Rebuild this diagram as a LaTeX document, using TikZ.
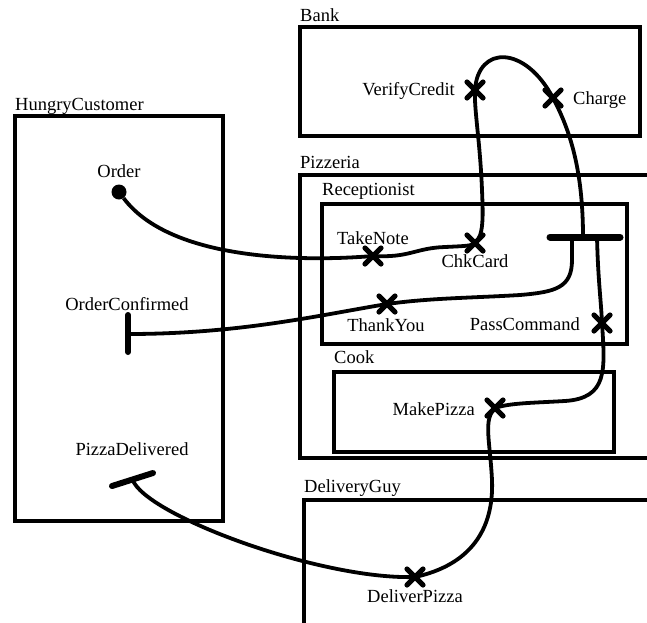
\documentclass[tikz,border=0pt]{standalone}
\usepackage{fontspec}
\setmainfont{Liberation Serif}
\begin{document}
\begin{tikzpicture}[x=1pt,y=-1pt,
  box/.style={line width=3.8pt},
  conn/.style={line width=3.8pt},
  lbl/.style={inner sep=0pt, font=\fontsize{18.5}{22}\selectfont},
  xm/.style={line width=5.2pt, line cap=round},
  barline/.style={line width=7pt, line cap=round}]
\clip (0,0) rectangle (647,622);
% swimlane boxes
\draw[box] (300,27) rectangle (640,136);
\draw[box] (680,175) -- (300,175) -- (300,458) -- (680,458);
\draw[box] (322,204) rectangle (627,344);
\draw[box] (334,372) rectangle (614,452);
\draw[box] (680,500) -- (304,500) -- (304,660);
\draw[box] (15,116) rectangle (223,521);
% lane titles
\node[lbl, anchor=base west] (tBank) at (300,21) {Bank};
\node[lbl, anchor=base west] (tPizzeria) at (300,168) {Pizzeria};
\node[lbl, anchor=base west] (tRecep) at (322,195) {Receptionist};
\node[lbl, anchor=base west] (tCook) at (334,363) {Cook};
\node[lbl, anchor=base west] (tDeliv) at (304,492) {DeliveryGuy};
\node[lbl, anchor=base west] (tHungry) at (15,110) {HungryCustomer};
% labels
\node[lbl, anchor=base] (lOrder) at (119,177) {Order};
\node[lbl, anchor=base] (lOC) at (127,310) {OrderConfirmed};
\node[lbl, anchor=base] (lPD) at (132,455) {PizzaDelivered};
\node[lbl, anchor=base east] (lVC) at (455,95) {VerifyCredit};
\node[lbl, anchor=base west] (lCh) at (573,104) {Charge};
\node[lbl, anchor=base] (lTN) at (373,244) {TakeNote};
\node[lbl, anchor=base] (lCk) at (475,267) {ChkCard};
\node[lbl, anchor=base] (lTY) at (386,331) {ThankYou};
\node[lbl, anchor=base east] (lPC) at (580,330) {PassCommand};
\node[lbl, anchor=base east] (lMP) at (475,415) {MakePizza};
\node[lbl, anchor=base] (lDP) at (415,602) {DeliverPizza};
% anchor points
\node[circle, fill, inner sep=0pt, minimum size=15pt] (order) at (119,192) {};
\coordinate (vc) at (475,90);
\coordinate (ch) at (553,98);
\coordinate (tn) at (373,256);
\coordinate (ck) at (475,243);
\coordinate (ty) at (387,304);
\coordinate (pc) at (602,323);
\coordinate (mp) at (495,408);
\coordinate (dp) at (415,577);
\coordinate (rb1) at (550,237);
\coordinate (rb2) at (620,237);
\coordinate (bA) at (583,237);
\coordinate (bB) at (572,237);
\coordinate (bC) at (597,237);
\coordinate (oc1) at (128,315);
\coordinate (oc2) at (128,352);
\coordinate (oc) at (128,334);
\coordinate (pd1) at (112,486);
\coordinate (pd2) at (153,473);
\coordinate (pd) at (132.5,479.5);
% connectors
\draw[conn] (order) .. controls (170,260) and (300,262) .. (tn)
  .. controls (410,258) and (415,248) .. (445,247)
  .. controls (465,246) and (472,246) .. (ck)
  .. controls (484,236) and (483,215) .. (482,190)
  .. controls (480,140) and (474,110) .. (vc)
  .. controls (478,45) and (525,45) .. (ch)
  .. controls (570,130) and (583,170) .. (bA);
\draw[conn] (bB) -- (572,260) .. controls (572,288) and (555,292) .. (520,295)
  .. controls (470,298) and (430,298) .. (ty)
  .. controls (320,315) and (240,334) .. (oc);
\draw[conn] (bC) .. controls (598,280) and (601,300) .. (pc)
  .. controls (605,370) and (608,398) .. (565,401)
  .. controls (530,403) and (510,403) .. (mp);
\draw[conn] (mp) .. controls (483,420) and (490,440) .. (492,480)
  .. controls (494,530) and (470,565) .. (dp);
\draw[conn] (dp) .. controls (320,580) and (145,515) .. (pd);
% bars
\draw[barline] (rb1) -- (rb2);
\draw[line width=6pt, line cap=round] (oc1) -- (oc2);
\draw[line width=6pt, line cap=round] (pd1) -- (pd2);
% cross marks
\foreach \p in {vc,ch,tn,ck,ty,pc,mp,dp}{
  \draw[xm] (\p) +(-8,-8) -- +(8,8) +(-8,8) -- +(8,-8);
}
\end{tikzpicture}
\end{document}
